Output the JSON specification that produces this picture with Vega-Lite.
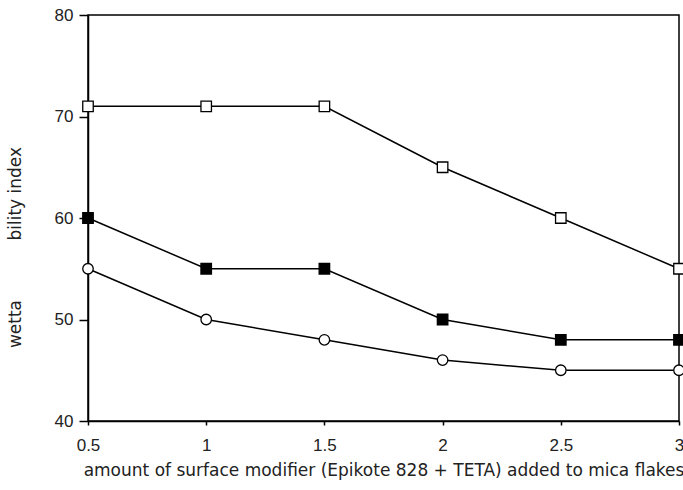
{
  "$schema": "https://vega.github.io/schema/vega-lite/v6.json",
  "autosize": {"type": "none"},
  "width": 591,
  "height": 406,
  "padding": {"left": 88, "top": 15, "right": 4, "bottom": 69},
  "background": "white",
  "config": {
    "view": {"stroke": "black", "strokeWidth": 1.5},
    "font": "Liberation Sans",
    "axis": {"grid": false, "domainColor": "black", "tickColor": "black", "labelColor": "#222", "titleColor": "#222", "labelFont": "Liberation Sans", "titleFont": "DejaVu Sans", "labelFontSize": 17, "titleFontSize": 17, "titleFontWeight": "normal", "domainWidth": 1.5, "tickWidth": 1.5}
  },
  "data": {
    "values": [
      {"x": 0.5, "y": 71, "s": "open square"},
      {"x": 1, "y": 71, "s": "open square"},
      {"x": 1.5, "y": 71, "s": "open square"},
      {"x": 2, "y": 65, "s": "open square"},
      {"x": 2.5, "y": 60, "s": "open square"},
      {"x": 3, "y": 55, "s": "open square"},
      {"x": 0.5, "y": 60, "s": "filled square"},
      {"x": 1, "y": 55, "s": "filled square"},
      {"x": 1.5, "y": 55, "s": "filled square"},
      {"x": 2, "y": 50, "s": "filled square"},
      {"x": 2.5, "y": 48, "s": "filled square"},
      {"x": 3, "y": 48, "s": "filled square"},
      {"x": 0.5, "y": 55, "s": "open circle"},
      {"x": 1, "y": 50, "s": "open circle"},
      {"x": 1.5, "y": 48, "s": "open circle"},
      {"x": 2, "y": 46, "s": "open circle"},
      {"x": 2.5, "y": 45, "s": "open circle"},
      {"x": 3, "y": 45, "s": "open circle"}
    ]
  },
  "encoding": {
    "x": {"field": "x", "type": "quantitative", "scale": {"domain": [0.5, 3], "nice": false, "zero": false},
      "axis": {"values": [0.5, 1, 1.5, 2, 2.5, 3], "format": "~g", "tickSize": 4, "labelPadding": 12, "labelFlush": false,
        "title": "amount of surface modifier (Epikote 828 + TETA) added to mica flakes", "titlePadding": 9}},
    "y": {"field": "y", "type": "quantitative", "scale": {"domain": [40, 80], "nice": false, "zero": false},
      "axis": {"values": [40, 50, 60, 70, 80], "tickSize": 9, "labelPadding": 6, "labelFlush": false,
        "title": "wetta\u00a0\u00a0\u00a0\u00a0\u00a0\u00a0\u00a0\u00a0\u00a0\u00a0\u00a0bility index", "titleX": -73, "titleY": 232, "titleAngle": 270, "titleAlign": "center", "titleBaseline": "middle"}}
  },
  "layer": [
    {"mark": {"type": "line", "color": "black", "strokeWidth": 1.5}, "encoding": {"detail": {"field": "s"}}},
    {"mark": {"type": "point", "stroke": "black", "strokeWidth": 1.3, "size": 110, "opacity": 1, "filled": false},
      "encoding": {
        "shape": {"field": "s", "type": "nominal", "scale": {"domain": ["open square", "filled square", "open circle"], "range": ["square", "square", "circle"]}, "legend": null},
        "fill": {"field": "s", "type": "nominal", "scale": {"domain": ["open square", "filled square", "open circle"], "range": ["white", "black", "white"]}, "legend": null}
      }}
  ]
}
